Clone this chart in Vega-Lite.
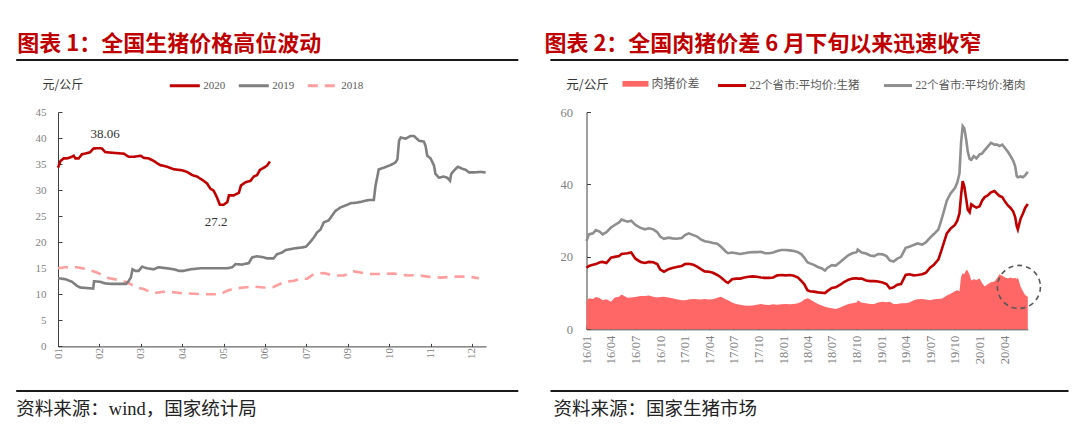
{
  "$schema": "https://vega.github.io/schema/vega-lite/v6.json",
  "padding": {"left": 15, "top": 33, "right": 5, "bottom": 5},
  "spacing": 0,
  "resolve": {"scale": {"stroke": "independent", "strokeDash": "independent", "fill": "independent"}, "legend": {"stroke": "independent", "strokeDash": "independent", "fill": "independent"}},
  "config": {
    "view": {"stroke": null},
    "font": "Liberation Serif",
    "axis": {"grid": false, "domainColor": "#404040", "tickColor": "#404040", "labelColor": "#7F7F7F", "labelFont": "Liberation Serif", "labelOverlap": false},
    "legend": {"padding": 0}
  },
  "datasets": {
    "pig": [
      {"s":"2018","i":0.00,"v":15.0},{"s":"2018","i":0.18,"v":15.2},{"s":"2018","i":0.46,"v":15.2},{"s":"2018","i":0.70,"v":14.8},{"s":"2018","i":0.94,"v":14.2},{"s":"2018","i":1.18,"v":13.2},{"s":"2018","i":1.43,"v":12.8},{"s":"2018","i":1.67,"v":12.3},{"s":"2018","i":1.91,"v":11.3},{"s":"2018","i":2.07,"v":11.0},{"s":"2018","i":2.31,"v":10.2},{"s":"2018","i":2.55,"v":10.5},{"s":"2018","i":2.80,"v":10.4},{"s":"2018","i":3.00,"v":10.2},{"s":"2018","i":3.28,"v":10.1},{"s":"2018","i":3.60,"v":10.0},{"s":"2018","i":3.92,"v":10.0},{"s":"2018","i":4.09,"v":10.7},{"s":"2018","i":4.25,"v":11.1},{"s":"2018","i":4.49,"v":11.3},{"s":"2018","i":4.73,"v":11.5},{"s":"2018","i":4.97,"v":11.3},{"s":"2018","i":5.21,"v":11.4},{"s":"2018","i":5.46,"v":12.4},{"s":"2018","i":5.70,"v":12.6},{"s":"2018","i":5.86,"v":13.0},{"s":"2018","i":6.02,"v":13.0},{"s":"2018","i":6.18,"v":13.9},{"s":"2018","i":6.42,"v":14.1},{"s":"2018","i":6.66,"v":13.6},{"s":"2018","i":6.91,"v":13.6},{"s":"2018","i":7.15,"v":14.4},{"s":"2018","i":7.31,"v":14.2},{"s":"2018","i":7.47,"v":13.9},{"s":"2018","i":7.79,"v":13.9},{"s":"2018","i":8.11,"v":14.0},{"s":"2018","i":8.44,"v":13.6},{"s":"2018","i":8.68,"v":13.7},{"s":"2018","i":8.92,"v":13.4},{"s":"2018","i":9.24,"v":13.2},{"s":"2018","i":9.56,"v":13.4},{"s":"2018","i":9.89,"v":13.4},{"s":"2018","i":10.17,"v":13.1},
      {"s":"2019","i":0.00,"v":13.1},{"s":"2019","i":0.18,"v":12.9},{"s":"2019","i":0.34,"v":12.4},{"s":"2019","i":0.46,"v":11.6},{"s":"2019","i":0.54,"v":11.3},{"s":"2019","i":0.70,"v":11.2},{"s":"2019","i":0.85,"v":11.1},{"s":"2019","i":0.87,"v":12.5},{"s":"2019","i":1.02,"v":12.4},{"s":"2019","i":1.14,"v":12.1},{"s":"2019","i":1.27,"v":12.0},{"s":"2019","i":1.43,"v":12.0},{"s":"2019","i":1.65,"v":12.0},{"s":"2019","i":1.71,"v":12.6},{"s":"2019","i":1.76,"v":13.2},{"s":"2019","i":1.80,"v":14.8},{"s":"2019","i":1.87,"v":14.5},{"s":"2019","i":1.95,"v":14.5},{"s":"2019","i":2.03,"v":15.3},{"s":"2019","i":2.15,"v":15.0},{"s":"2019","i":2.31,"v":14.8},{"s":"2019","i":2.43,"v":15.2},{"s":"2019","i":2.63,"v":15.0},{"s":"2019","i":2.80,"v":14.8},{"s":"2019","i":2.92,"v":14.5},{"s":"2019","i":3.04,"v":14.5},{"s":"2019","i":3.20,"v":14.8},{"s":"2019","i":3.44,"v":15.0},{"s":"2019","i":3.84,"v":15.0},{"s":"2019","i":4.09,"v":15.0},{"s":"2019","i":4.21,"v":15.2},{"s":"2019","i":4.29,"v":15.8},{"s":"2019","i":4.45,"v":15.7},{"s":"2019","i":4.61,"v":16.0},{"s":"2019","i":4.69,"v":17.1},{"s":"2019","i":4.81,"v":17.3},{"s":"2019","i":4.97,"v":17.1},{"s":"2019","i":5.05,"v":16.9},{"s":"2019","i":5.21,"v":16.9},{"s":"2019","i":5.29,"v":17.7},{"s":"2019","i":5.41,"v":18.0},{"s":"2019","i":5.50,"v":18.5},{"s":"2019","i":5.70,"v":18.8},{"s":"2019","i":5.90,"v":19.0},{"s":"2019","i":6.00,"v":19.2},{"s":"2019","i":6.10,"v":20.1},{"s":"2019","i":6.18,"v":20.9},{"s":"2019","i":6.26,"v":21.9},{"s":"2019","i":6.34,"v":22.4},{"s":"2019","i":6.42,"v":23.8},{"s":"2019","i":6.54,"v":24.2},{"s":"2019","i":6.62,"v":25.1},{"s":"2019","i":6.70,"v":26.0},{"s":"2019","i":6.83,"v":26.7},{"s":"2019","i":6.99,"v":27.2},{"s":"2019","i":7.07,"v":27.5},{"s":"2019","i":7.23,"v":27.6},{"s":"2019","i":7.39,"v":27.9},{"s":"2019","i":7.51,"v":28.1},{"s":"2019","i":7.63,"v":28.1},{"s":"2019","i":7.67,"v":30.8},{"s":"2019","i":7.75,"v":34.0},{"s":"2019","i":7.87,"v":34.3},{"s":"2019","i":8.03,"v":34.8},{"s":"2019","i":8.15,"v":35.3},{"s":"2019","i":8.20,"v":35.9},{"s":"2019","i":8.24,"v":39.5},{"s":"2019","i":8.28,"v":40.1},{"s":"2019","i":8.40,"v":39.9},{"s":"2019","i":8.52,"v":40.4},{"s":"2019","i":8.60,"v":40.4},{"s":"2019","i":8.72,"v":39.5},{"s":"2019","i":8.84,"v":39.3},{"s":"2019","i":8.88,"v":38.5},{"s":"2019","i":8.92,"v":36.6},{"s":"2019","i":9.00,"v":36.1},{"s":"2019","i":9.08,"v":34.8},{"s":"2019","i":9.12,"v":33.1},{"s":"2019","i":9.20,"v":32.4},{"s":"2019","i":9.32,"v":32.6},{"s":"2019","i":9.40,"v":32.4},{"s":"2019","i":9.47,"v":31.8},{"s":"2019","i":9.50,"v":33.1},{"s":"2019","i":9.56,"v":33.7},{"s":"2019","i":9.66,"v":34.5},{"s":"2019","i":9.77,"v":34.1},{"s":"2019","i":9.85,"v":33.9},{"s":"2019","i":9.93,"v":33.4},{"s":"2019","i":10.05,"v":33.4},{"s":"2019","i":10.21,"v":33.5},{"s":"2019","i":10.33,"v":33.4},
      {"s":"2020","i":0.00,"v":34.3},{"s":"2020","i":0.06,"v":35.6},{"s":"2020","i":0.14,"v":36.1},{"s":"2020","i":0.22,"v":36.1},{"s":"2020","i":0.30,"v":36.3},{"s":"2020","i":0.38,"v":36.6},{"s":"2020","i":0.42,"v":36.1},{"s":"2020","i":0.50,"v":36.1},{"s":"2020","i":0.58,"v":36.9},{"s":"2020","i":0.70,"v":37.1},{"s":"2020","i":0.78,"v":37.3},{"s":"2020","i":0.86,"v":38.0},{"s":"2020","i":1.00,"v":38.06},{"s":"2020","i":1.06,"v":38.0},{"s":"2020","i":1.14,"v":37.3},{"s":"2020","i":1.27,"v":37.2},{"s":"2020","i":1.43,"v":37.1},{"s":"2020","i":1.59,"v":37.0},{"s":"2020","i":1.71,"v":36.4},{"s":"2020","i":1.83,"v":36.4},{"s":"2020","i":2.00,"v":36.6},{"s":"2020","i":2.07,"v":36.2},{"s":"2020","i":2.19,"v":36.1},{"s":"2020","i":2.31,"v":35.6},{"s":"2020","i":2.47,"v":34.8},{"s":"2020","i":2.63,"v":34.5},{"s":"2020","i":2.80,"v":34.0},{"s":"2020","i":3.00,"v":33.8},{"s":"2020","i":3.12,"v":33.5},{"s":"2020","i":3.24,"v":32.9},{"s":"2020","i":3.36,"v":32.6},{"s":"2020","i":3.48,"v":32.0},{"s":"2020","i":3.60,"v":31.3},{"s":"2020","i":3.68,"v":30.3},{"s":"2020","i":3.76,"v":29.9},{"s":"2020","i":3.84,"v":28.6},{"s":"2020","i":3.91,"v":27.2},{"s":"2020","i":4.00,"v":27.2},{"s":"2020","i":4.09,"v":27.7},{"s":"2020","i":4.13,"v":29.0},{"s":"2020","i":4.25,"v":29.0},{"s":"2020","i":4.37,"v":29.5},{"s":"2020","i":4.42,"v":30.9},{"s":"2020","i":4.53,"v":31.5},{"s":"2020","i":4.65,"v":31.8},{"s":"2020","i":4.73,"v":32.6},{"s":"2020","i":4.81,"v":32.9},{"s":"2020","i":4.88,"v":33.9},{"s":"2020","i":4.97,"v":34.3},{"s":"2020","i":5.05,"v":34.7},{"s":"2020","i":5.12,"v":35.5}
    ],
    "price": [
      {"d":"2016-01-01","pork":24.4,"hog":17.0,"spread":7.8},{"d":"2016-01-10","pork":26.2,"hog":17.5,"spread":8.6},{"d":"2016-01-25","pork":26.5,"hog":17.8,"spread":8.4},{"d":"2016-02-05","pork":27.4,"hog":18.0,"spread":8.9},{"d":"2016-02-20","pork":26.9,"hog":18.5,"spread":8.6},{"d":"2016-03-01","pork":26.2,"hog":18.6,"spread":8.0},{"d":"2016-03-15","pork":26.8,"hog":18.3,"spread":8.3},{"d":"2016-04-01","pork":28.1,"hog":19.8,"spread":7.6},{"d":"2016-04-15","pork":28.8,"hog":20.0,"spread":8.8},{"d":"2016-05-01","pork":29.5,"hog":20.2,"spread":9.0},{"d":"2016-05-10","pork":30.3,"hog":20.8,"spread":9.6},{"d":"2016-06-01","pork":29.7,"hog":21.0,"spread":8.7},{"d":"2016-06-15","pork":30.0,"hog":21.2,"spread":8.8},{"d":"2016-07-01","pork":28.8,"hog":19.5,"spread":8.9},{"d":"2016-07-20","pork":28.0,"hog":18.6,"spread":9.2},{"d":"2016-08-05","pork":27.6,"hog":18.3,"spread":9.2},{"d":"2016-08-20","pork":27.9,"hog":18.6,"spread":9.3},{"d":"2016-09-05","pork":27.6,"hog":18.5,"spread":9.0},{"d":"2016-09-20","pork":26.8,"hog":18.0,"spread":8.8},{"d":"2016-10-01","pork":25.6,"hog":16.5,"spread":8.9},{"d":"2016-10-15","pork":25.0,"hog":15.9,"spread":9.0},{"d":"2016-11-01","pork":25.3,"hog":16.6,"spread":8.8},{"d":"2016-11-15","pork":25.1,"hog":16.9,"spread":8.6},{"d":"2016-12-01","pork":25.0,"hog":17.2,"spread":8.3},{"d":"2016-12-20","pork":25.2,"hog":17.5,"spread":8.0},
      {"d":"2017-01-01","pork":26.0,"hog":18.0,"spread":8.0},{"d":"2017-01-15","pork":26.5,"hog":18.1,"spread":8.2},{"d":"2017-02-01","pork":26.0,"hog":17.8,"spread":8.4},{"d":"2017-02-15","pork":25.6,"hog":17.3,"spread":8.3},{"d":"2017-03-01","pork":24.8,"hog":16.6,"spread":8.2},{"d":"2017-03-15","pork":24.3,"hog":16.0,"spread":8.4},{"d":"2017-04-01","pork":24.1,"hog":15.9,"spread":8.2},{"d":"2017-04-15","pork":23.8,"hog":15.6,"spread":8.3},{"d":"2017-05-01","pork":23.6,"hog":15.0,"spread":8.7},{"d":"2017-05-15","pork":22.8,"hog":14.3,"spread":9.0},{"d":"2017-06-01","pork":21.5,"hog":13.2,"spread":8.3},{"d":"2017-06-10","pork":21.0,"hog":12.8,"spread":8.0},{"d":"2017-06-25","pork":21.2,"hog":13.8,"spread":7.4},{"d":"2017-07-10","pork":21.0,"hog":14.0,"spread":7.0},{"d":"2017-07-25","pork":20.8,"hog":14.0,"spread":6.8},{"d":"2017-08-10","pork":21.0,"hog":14.3,"spread":6.6},{"d":"2017-08-25","pork":21.2,"hog":14.5,"spread":6.5},{"d":"2017-09-10","pork":21.3,"hog":14.6,"spread":6.6},{"d":"2017-09-25","pork":21.3,"hog":14.5,"spread":6.8},{"d":"2017-10-10","pork":21.4,"hog":14.3,"spread":7.0},{"d":"2017-10-25","pork":21.0,"hog":14.2,"spread":6.8},{"d":"2017-11-10","pork":21.0,"hog":14.2,"spread":6.7},{"d":"2017-11-25","pork":21.2,"hog":14.3,"spread":6.9},{"d":"2017-12-10","pork":21.6,"hog":14.9,"spread":6.8},{"d":"2017-12-25","pork":21.9,"hog":15.0,"spread":6.9},
      {"d":"2018-01-10","pork":21.9,"hog":14.9,"spread":7.0},{"d":"2018-01-25","pork":21.8,"hog":15.0,"spread":6.9},{"d":"2018-02-10","pork":21.6,"hog":14.8,"spread":7.0},{"d":"2018-02-25","pork":21.3,"hog":14.3,"spread":7.2},{"d":"2018-03-10","pork":20.7,"hog":13.3,"spread":7.6},{"d":"2018-03-20","pork":19.8,"hog":12.5,"spread":8.2},{"d":"2018-04-01","pork":18.5,"hog":10.8,"spread":8.6},{"d":"2018-04-10","pork":18.2,"hog":10.5,"spread":8.3},{"d":"2018-04-25","pork":17.8,"hog":10.4,"spread":7.6},{"d":"2018-05-10","pork":17.2,"hog":10.2,"spread":7.0},{"d":"2018-05-25","pork":16.8,"hog":10.1,"spread":6.6},{"d":"2018-06-05","pork":16.2,"hog":10.0,"spread":6.2},{"d":"2018-06-15","pork":17.0,"hog":10.6,"spread":6.0},{"d":"2018-07-01","pork":17.7,"hog":11.4,"spread":5.8},{"d":"2018-07-15","pork":17.6,"hog":11.6,"spread":5.6},{"d":"2018-08-01","pork":18.6,"hog":12.3,"spread":6.0},{"d":"2018-08-15","pork":19.5,"hog":13.0,"spread":6.5},{"d":"2018-09-01","pork":20.5,"hog":13.7,"spread":7.0},{"d":"2018-09-15","pork":21.0,"hog":14.0,"spread":7.2},{"d":"2018-10-01","pork":21.3,"hog":14.1,"spread":7.4},{"d":"2018-10-05","pork":22.0,"hog":14.0,"spread":8.0},{"d":"2018-10-20","pork":21.2,"hog":14.0,"spread":7.3},{"d":"2018-11-05","pork":20.9,"hog":13.5,"spread":7.2},{"d":"2018-11-20","pork":20.4,"hog":13.3,"spread":7.0},{"d":"2018-12-05","pork":20.2,"hog":13.3,"spread":7.0},{"d":"2018-12-20","pork":20.8,"hog":13.2,"spread":7.4},
      {"d":"2019-01-05","pork":20.7,"hog":12.9,"spread":7.6},{"d":"2019-01-20","pork":20.2,"hog":12.5,"spread":7.5},{"d":"2019-02-01","pork":19.0,"hog":11.3,"spread":7.6},{"d":"2019-02-15","pork":18.7,"hog":11.6,"spread":7.0},{"d":"2019-03-01","pork":19.5,"hog":12.3,"spread":7.0},{"d":"2019-03-15","pork":20.0,"hog":12.5,"spread":7.2},{"d":"2019-04-01","pork":22.5,"hog":15.0,"spread":7.2},{"d":"2019-04-15","pork":22.8,"hog":15.2,"spread":7.4},{"d":"2019-05-01","pork":23.3,"hog":14.9,"spread":8.0},{"d":"2019-05-15","pork":23.7,"hog":15.0,"spread":8.3},{"d":"2019-06-01","pork":23.4,"hog":15.2,"spread":8.4},{"d":"2019-06-15","pork":24.0,"hog":15.6,"spread":8.2},{"d":"2019-07-01","pork":25.3,"hog":17.0,"spread":8.0},{"d":"2019-07-15","pork":26.3,"hog":17.8,"spread":8.3},{"d":"2019-08-01","pork":27.6,"hog":19.3,"spread":8.4},{"d":"2019-08-15","pork":31.0,"hog":22.5,"spread":8.5},{"d":"2019-09-01","pork":35.5,"hog":26.5,"spread":9.3},{"d":"2019-09-15","pork":37.5,"hog":27.8,"spread":9.8},{"d":"2019-10-01","pork":39.0,"hog":28.8,"spread":10.5},{"d":"2019-10-10","pork":40.5,"hog":30.0,"spread":10.8},{"d":"2019-10-18","pork":43.0,"hog":32.0,"spread":10.5},{"d":"2019-10-24","pork":51.5,"hog":37.0,"spread":14.5},{"d":"2019-10-30","pork":56.1,"hog":40.9,"spread":15.5},{"d":"2019-11-05","pork":55.5,"hog":39.5,"spread":15.2},{"d":"2019-11-12","pork":52.4,"hog":36.0,"spread":16.4},{"d":"2019-11-18","pork":49.0,"hog":33.0,"spread":16.2},{"d":"2019-11-25","pork":47.0,"hog":32.3,"spread":15.0},{"d":"2019-12-01","pork":46.8,"hog":34.5,"spread":13.5},{"d":"2019-12-10","pork":47.8,"hog":34.0,"spread":13.8},{"d":"2019-12-20","pork":47.2,"hog":33.6,"spread":13.6},
      {"d":"2020-01-01","pork":48.3,"hog":34.0,"spread":14.0},{"d":"2020-01-10","pork":48.5,"hog":35.5,"spread":12.8},{"d":"2020-01-20","pork":49.5,"hog":36.5,"spread":11.8},{"d":"2020-02-01","pork":50.5,"hog":37.0,"spread":12.5},{"d":"2020-02-12","pork":51.5,"hog":37.8,"spread":13.0},{"d":"2020-02-25","pork":51.0,"hog":38.2,"spread":13.2},{"d":"2020-03-05","pork":51.0,"hog":37.5,"spread":14.0},{"d":"2020-03-15","pork":50.6,"hog":36.8,"spread":15.2},{"d":"2020-03-25","pork":51.0,"hog":36.5,"spread":14.8},{"d":"2020-04-05","pork":50.0,"hog":35.2,"spread":14.3},{"d":"2020-04-15","pork":49.0,"hog":34.2,"spread":14.0},{"d":"2020-04-25","pork":47.8,"hog":33.5,"spread":14.3},{"d":"2020-05-05","pork":46.5,"hog":32.5,"spread":14.0},{"d":"2020-05-12","pork":45.0,"hog":31.0,"spread":14.2},{"d":"2020-05-18","pork":42.3,"hog":28.5,"spread":13.8},{"d":"2020-05-22","pork":42.0,"hog":27.6,"spread":14.3},{"d":"2020-06-01","pork":42.2,"hog":30.5,"spread":11.8},{"d":"2020-06-10","pork":42.0,"hog":32.0,"spread":10.5},{"d":"2020-06-18","pork":42.5,"hog":33.5,"spread":9.5},{"d":"2020-06-28","pork":43.5,"hog":34.6,"spread":9.0}
    ]
  },
  "vconcat": [
    {
      "spacing": 24.1,
      "hconcat": [
        {
          "width": 428, "height": 8.5,
          "title": {"text": "图表 1：全国生猪价格高位波动", "anchor": "start", "frame": "group", "font": "Noto Sans CJK SC", "fontSize": 22, "fontWeight": "bold", "color": "#C00000", "offset": 3, "dx": -40.7},
          "data": {"values": [{"k": 1}]},
          "mark": {"type": "rule", "color": "#1a1a1a", "strokeWidth": 1.8},
          "encoding": {
            "x": {"datum": -41.8, "type": "quantitative", "scale": {"domain": [0, 428], "nice": false, "zero": false}, "axis": null},
            "x2": {"datum": 460.3},
            "y": {"datum": 1, "type": "quantitative", "scale": {"domain": [0, 1]}, "axis": null}
          }
        },
        {
          "width": 441.3, "height": 8.5,
          "title": {"text": "图表 2：全国肉猪价差 6 月下旬以来迅速收窄", "anchor": "start", "frame": "group", "font": "Noto Sans CJK SC", "fontSize": 22, "fontWeight": "bold", "color": "#C00000", "offset": 3, "dx": -42.7},
          "data": {"values": [{"k": 1}]},
          "mark": {"type": "rule", "color": "#1a1a1a", "strokeWidth": 1.8},
          "encoding": {
            "x": {"datum": -36.7, "type": "quantitative", "scale": {"domain": [0, 441.3], "nice": false, "zero": false}, "axis": null},
            "x2": {"datum": 481.3},
            "y": {"datum": 1, "type": "quantitative", "scale": {"domain": [0, 1]}, "axis": null}
          }
        }
      ]
    },
    {
      "spacing": 58.5,
      "resolve": {"scale": {"stroke": "independent", "strokeDash": "independent", "fill": "independent"}, "legend": {"stroke": "independent", "strokeDash": "independent", "fill": "independent"}},
      "hconcat": [
        {
          "width": 428, "height": 234.4,
          "layer": [
            {
              "data": {"name": "pig"},
              "mark": {"type": "line", "strokeWidth": 2.6},
              "encoding": {
                "x": {"field": "i", "type": "quantitative", "scale": {"domain": [0, 10.34], "nice": false, "zero": false},
                      "axis": {"values": [0,1,2,3,4,5,6,7,8,9,10], "tickCount": 11, "labelOverlap": false, "labelExpr": "['01','02','03','04','05','06','07','09','10','11','12'][datum.value]", "labelAngle": -90, "labelFontSize": 11, "tickSize": -3, "labelPadding": 4, "title": null, "minExtent": 42.3, "maxExtent": 42.3}},
                "y": {"field": "v", "type": "quantitative", "scale": {"domain": [0, 45], "nice": false},
                      "axis": {"values": [0,5,10,15,20,25,30,35,40,45], "tickCount": 10, "labelOverlap": false, "labelFontSize": 11, "tickSize": -4, "labelPadding": 16, "minExtent": 42.7, "maxExtent": 42.7,
                               "title": "元/公斤", "titleAngle": 0, "titleAlign": "left", "titleBaseline": "middle", "titleX": -16, "titleY": -28, "titleFont": "Noto Sans CJK SC", "titleFontSize": 12, "titleFontWeight": "normal", "titleColor": "#333333"}},
                "stroke": {"field": "s", "type": "nominal", "scale": {"domain": ["2020", "2019", "2018"], "range": ["#C00000", "#7F7F7F", "#FF9E9E"]},
                           "legend": {"title": null, "orient": "none", "legendX": 110.3, "legendY": -43, "direction": "horizontal", "symbolType": "stroke", "symbolSize": 900, "symbolStrokeWidth": 3, "labelFont": "Liberation Serif", "labelFontSize": 11, "labelColor": "#595959", "labelOffset": 2, "columnPadding": 7}},
                "strokeDash": {"field": "s", "type": "nominal", "scale": {"domain": ["2020", "2019", "2018"], "range": [[1, 0], [1, 0], [10, 7]]},
                           "legend": {"title": null, "orient": "none", "legendX": 110.3, "legendY": -43, "direction": "horizontal", "symbolType": "stroke", "symbolSize": 900, "symbolStrokeWidth": 3, "labelFont": "Liberation Serif", "labelFontSize": 11, "labelColor": "#595959", "labelOffset": 2, "columnPadding": 7}}
              }
            },
            {
              "data": {"values": [{"t": "38.06", "i": 1.14, "v": 40.8}, {"t": "27.2", "i": 3.82, "v": 23.9}]},
              "mark": {"type": "text", "font": "Liberation Serif", "fontSize": 13, "color": "#333333", "align": "center", "baseline": "middle"},
              "encoding": {
                "x": {"field": "i", "type": "quantitative"},
                "y": {"field": "v", "type": "quantitative"},
                "text": {"field": "t"}
              }
            }
          ]
        },
        {
          "width": 441.3, "height": 217.3,
          "layer": [
            {
              "data": {"name": "price"},
              "mark": {"type": "area"},
              "encoding": {
                "x": {"field": "d", "type": "temporal", "scale": {"type": "utc", "domain": [{"year": 2016, "month": 1, "date": 1, "utc": true}, {"year": 2020, "month": 6, "date": 28, "utc": true}], "nice": false},
                      "axis": {"tickCount": {"interval": "month", "step": 3},
                        "labelOverlap": false, "labelExpr": "utcFormat(datum.value, '%y/%m')", "labelAngle": -90, "labelFontSize": 12.5, "tickSize": -4, "labelPadding": 10, "title": null, "minExtent": 60, "maxExtent": 60}},
                "y": {"field": "spread", "type": "quantitative", "scale": {"domain": [0, 60], "nice": false},
                      "axis": {"values": [0, 10, 20, 30, 40, 50, 60], "tickCount": 6, "labelOverlap": false, "labelFontSize": 12.5, "tickSize": -4, "labelPadding": 18, "minExtent": 36.7, "maxExtent": 36.7,
                               "title": "元/公斤", "titleAngle": 0, "titleAlign": "left", "titleBaseline": "middle", "titleX": -20.7, "titleY": -27.5, "titleFont": "Noto Sans CJK SC", "titleFontSize": 12.5, "titleFontWeight": "normal", "titleColor": "#333333"}},
                "fill": {"datum": "肉猪价差", "scale": {"domain": ["肉猪价差"], "range": ["#FF6666"]},
                         "legend": {"title": null, "orient": "none", "legendX": 36, "legendY": -41.2, "symbolType": "M-1,-0.22H1V0.22H-1Z", "symbolSize": 676, "symbolStrokeWidth": 0, "labelFont": "Liberation Serif, Noto Sans CJK SC", "labelFontSize": 12, "labelColor": "#595959", "labelOffset": 3}}
              }
            },
            {
              "data": {"name": "price"},
              "mark": {"type": "line", "strokeWidth": 2.6},
              "encoding": {
                "x": {"field": "d", "type": "temporal"},
                "y": {"field": "hog", "type": "quantitative"},
                "stroke": {"datum": "22个省市:平均价:生猪", "scale": {"domain": ["22个省市:平均价:生猪", "22个省市:平均价:猪肉"], "range": ["#C00000", "#8F8F8F"]},
                           "legend": {"title": null, "orient": "none", "legendX": 130, "legendY": -42.2, "direction": "horizontal", "symbolType": "stroke", "symbolSize": 784, "symbolStrokeWidth": 3, "labelFont": "Liberation Serif, Noto Sans CJK SC", "labelFontSize": 11.5, "labelColor": "#595959", "labelOffset": 2, "columnPadding": 18, "labelLimit": 300}}
              }
            },
            {
              "data": {"name": "price"},
              "mark": {"type": "line", "strokeWidth": 2.6},
              "encoding": {
                "x": {"field": "d", "type": "temporal"},
                "y": {"field": "pork", "type": "quantitative"},
                "stroke": {"datum": "22个省市:平均价:猪肉"}
              }
            },
            {
              "data": {"values": [{"d": "2020-05-26", "v": 11.7}]},
              "mark": {"type": "point", "shape": "circle", "size": 1850, "filled": false, "color": "#595959", "strokeWidth": 1.6, "strokeDash": [5, 4], "opacity": 1},
              "encoding": {
                "x": {"field": "d", "type": "temporal"},
                "y": {"field": "v", "type": "quantitative"}
              }
            }
          ]
        }
      ]
    },
    {
      "spacing": 29.2,
      "hconcat": [
        {
          "width": 428, "height": 2,
          "title": {"text": "资料来源：wind，国家统计局", "orient": "bottom", "anchor": "start", "frame": "group", "font": "Liberation Serif, Noto Sans CJK SC", "fontSize": 18.5, "fontWeight": "normal", "color": "#222222", "offset": 7, "dx": -41.7},
          "data": {"values": [{"k": 1}]},
          "mark": {"type": "rule", "color": "#1a1a1a", "strokeWidth": 1.8},
          "encoding": {
            "x": {"datum": -41.8, "type": "quantitative", "scale": {"domain": [0, 428], "nice": false, "zero": false}, "axis": null},
            "x2": {"datum": 460.3},
            "y": {"datum": 1, "type": "quantitative", "scale": {"domain": [0, 1]}, "axis": null}
          }
        },
        {
          "width": 441.3, "height": 2,
          "title": {"text": "资料来源：国家生猪市场", "orient": "bottom", "anchor": "start", "frame": "group", "font": "Liberation Serif, Noto Sans CJK SC", "fontSize": 18.5, "fontWeight": "normal", "color": "#222222", "offset": 7, "dx": -33.7},
          "data": {"values": [{"k": 1}]},
          "mark": {"type": "rule", "color": "#1a1a1a", "strokeWidth": 1.8},
          "encoding": {
            "x": {"datum": -36.7, "type": "quantitative", "scale": {"domain": [0, 441.3], "nice": false, "zero": false}, "axis": null},
            "x2": {"datum": 481.3},
            "y": {"datum": 1, "type": "quantitative", "scale": {"domain": [0, 1]}, "axis": null}
          }
        }
      ]
    }
  ]
}
